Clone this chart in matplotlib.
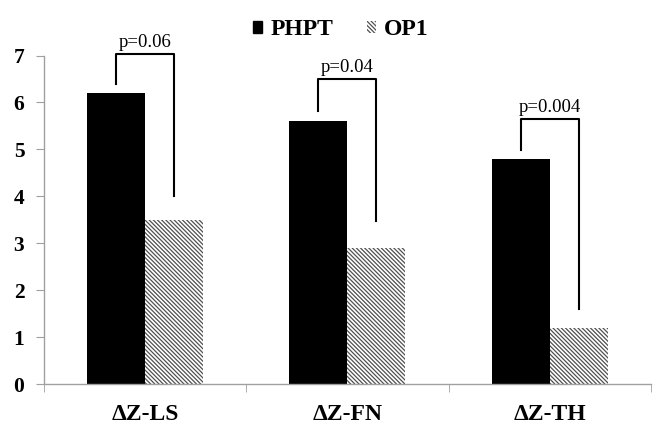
import matplotlib
matplotlib.use("Agg")
import matplotlib.pyplot as plt
import numpy as np
from matplotlib.patches import Patch

plt.rcParams['font.family'] = ['Liberation Serif', 'DejaVu Serif']
plt.rcParams['hatch.linewidth'] = 0.9

categories = ['ΔZ-LS', 'ΔZ-FN', 'ΔZ-TH']
phpt = [6.2, 5.6, 4.8]
op1 = [3.5, 2.9, 1.2]
p_labels = ['p=0.06', 'p=0.04', 'p=0.004']
bracket_top = [7.04, 6.5, 5.65]
bracket_left = [6.4, 5.82, 4.98]
bracket_right = [4.0, 3.47, 1.59]

fig = plt.figure(figsize=(6.53, 4.34), dpi=100)
ax = fig.add_axes([0.067, 0.115, 0.93, 0.757])

hatch = '\\' * 8

x = np.arange(len(categories))
w = 0.287
ax.bar(x - w/2, phpt, w, color='black', label='PHPT')
ax.bar(x + w/2, op1, w, color='white', edgecolor='#505050', linewidth=0,
       hatch=hatch, label='OP1')

# significance brackets
for i in range(len(categories)):
    xl = x[i] - w/2
    xr = x[i] + w/2
    ax.plot([xl, xl, xr, xr],
            [bracket_left[i], bracket_top[i], bracket_top[i], bracket_right[i]],
            color='black', lw=1.5, clip_on=False)
    ax.text(x[i], bracket_top[i] + 0.06, p_labels[i], ha='center', va='bottom',
            fontsize=13.5, clip_on=False)

ax.set_xlim(-0.5, 2.5)
ax.set_ylim(0, 7)
ax.set_yticks(range(8))
ax.set_xticks(x)
ax.set_xticklabels(categories, fontsize=17, fontweight='bold')
ax.set_xticks([-0.5, 0.5, 1.5, 2.5], minor=True)
ax.tick_params(axis='x', which='major', length=0, pad=14)
ax.tick_params(axis='x', which='minor', length=6, color='#a0a0a0', direction='out')
ax.tick_params(axis='y', length=6, color='#a0a0a0', labelsize=15.5, pad=8)
for lab in ax.get_yticklabels():
    lab.set_fontweight('bold')

for s in ['top', 'right']:
    ax.spines[s].set_visible(False)
for s in ['left', 'bottom']:
    ax.spines[s].set_color('#a0a0a0')
    ax.spines[s].set_linewidth(1)

handles = [Patch(facecolor='black', edgecolor='black', label='PHPT'),
           Patch(facecolor='white', edgecolor='#505050', linewidth=0,
                 hatch=hatch, label='OP1')]
fig.legend(handles=handles, loc='upper center', bbox_to_anchor=(0.522, 1.005),
           ncol=2, frameon=False, handlelength=0.4, handleheight=0.4,
           handletextpad=0.35, columnspacing=1.4,
           prop={'size': 17, 'weight': 'bold'})

fig.savefig('out.png', dpi=100)
